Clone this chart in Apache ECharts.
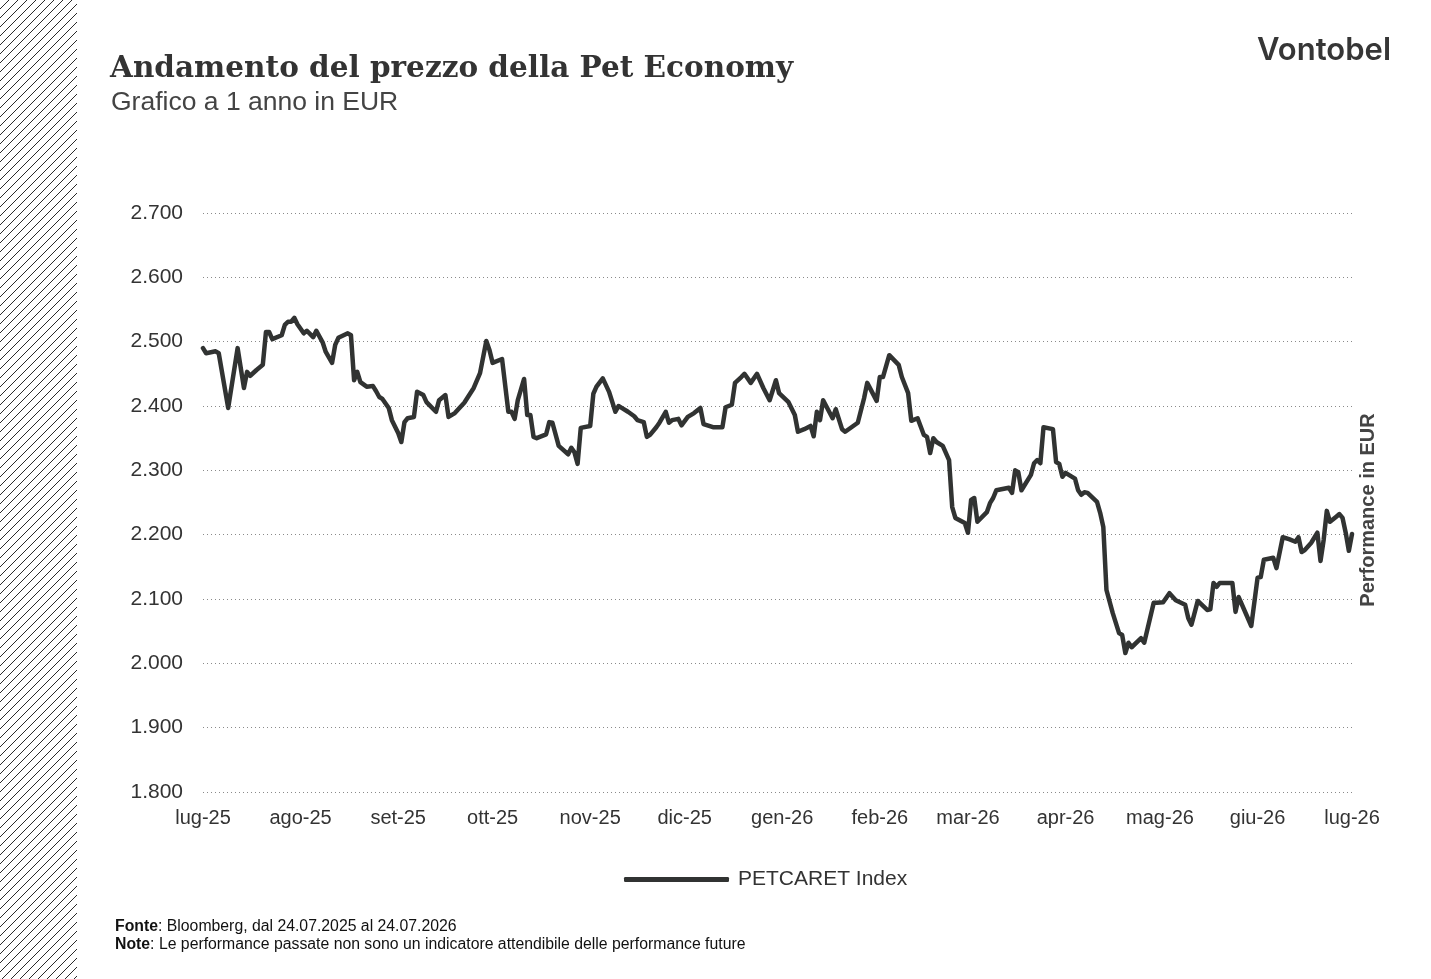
<!DOCTYPE html>
<html>
<head>
<meta charset="utf-8">
<script src="https://cdn.jsdelivr.net/npm/echarts@6/dist/echarts.min.js"></script>
<style>
  html, body { margin: 0; padding: 0; background: #fff; }
  #chart { width: 1431px; height: 979px; }
</style>
</head>
<body>
<div id="chart"></div>
<script>
// giorni dal 24.07.2025 (inizio serie)
const dayOffsets = [
  0,1,4,5,8,11,13,14,15,17, 19,20,21,22,25,26,27,28,29,30,
  32,33,35,36,38,39,41,42,43,46, 47,48,49,50,52,54,55,56,57,59,
  60,62,63,64,65,67,68,70,71,74, 75,77,78,80,83,86,88,90,91,92,
  95,97,98,99,100,102,103,104,105,106, 109,110,111,113,116,117,118,119,120,123,
  124,125,127,129,131,132,133,135,137,138, 140,141,142,144,145,147,148,149,151,152,
  154,156,158,159,162,165,166,168,169,171, 172,174,176,178,180,182,183,186,188,189,
  191,193,194,195,196,197,200,201,203,204, 208,210,211,214,215,216,218,221,222,224,
  225,227,229,230,231,232,233,235,237,238, 239,242,243,244,245,246,249,250,251,252,
  256,257,258,259,260,263,264,265,266,267, 270,271,272,273,274,277,278,279,280,281,
  284,285,286,287,289,291,292,293,294,295, 298,299,302,303,305,307,309,312,313,314,
  316,319,320,321,322,323,327,328,329,333, 335,336,337,340,341,343,345,347,348,349,
  350,352,354,355,356,357,358,360,361,362, 363,364,365
]

// PETCARET Index, EUR
const petcaret = [
  2490,2482,2485,2482,2397,2490,2428,2453,2447,2456, 2464,2515,2515,2504,2510,2526,2531,2531,2537,2527,
  2513,2517,2507,2517,2499,2484,2467,2495,2506,2513, 2510,2440,2453,2437,2430,2431,2423,2414,2411,2397,
  2378,2358,2344,2375,2381,2383,2422,2417,2406,2391, 2409,2417,2383,2389,2405,2428,2451,2501,2487,2467,
  2473,2391,2391,2380,2409,2442,2386,2386,2352,2350, 2356,2375,2374,2338,2325,2335,2328,2310,2366,2369,
  2419,2430,2443,2422,2391,2400,2397,2391,2384,2378, 2375,2352,2355,2367,2374,2391,2374,2378,2380,2370,
  2383,2389,2397,2372,2367,2367,2398,2402,2436,2445, 2450,2436,2450,2428,2409,2440,2420,2406,2386,2360,
  2364,2369,2353,2391,2378,2409,2381,2395,2364,2360, 2374,2412,2436,2408,2445,2445,2479,2464,2445,2420,
  2377,2381,2355,2352,2327,2350,2344,2338,2316,2243, 2226,2218,2203,2254,2257,2220,2235,2249,2257,2269,
  2273,2265,2300,2297,2269,2293,2311,2316,2311,2367, 2364,2313,2310,2290,2296,2287,2269,2262,2266,2265,
  2251,2234,2212,2114,2078,2047,2044,2016,2032,2025, 2039,2032,2094,2094,2095,2109,2098,2091,2070,2060,
  2097,2083,2084,2125,2119,2125,2125,2080,2103,2058, 2133,2134,2161,2164,2148,2196,2193,2189,2196,2173,
  2176,2187,2203,2159,2192,2237,2220,2228,2232,2226, 2203,2175,2201
]

// etichette asse x (24 di ogni mese)
const monthOffsets = [0, 31, 62, 92, 123, 153, 184, 215, 243, 274, 304, 335, 365]
const monthLabels = ['lug-25', 'ago-25', 'set-25', 'ott-25', 'nov-25', 'dic-25', 'gen-26',
  'feb-26', 'mar-26', 'apr-26', 'mag-26', 'giu-26', 'lug-26']

const yTicks = [1800, 1900, 2000, 2100, 2200, 2300, 2400, 2500, 2600, 2700]

const TEXT = '#333333'
const LINE = '#313332'

// tratteggio a sinistra
function hatchTile() {
  const c = document.createElement('canvas')
  c.width = 9
  c.height = 9
  const ctx = c.getContext('2d')
  ctx.strokeStyle = '#2a2a2a'
  ctx.lineWidth = 1
  ctx.beginPath()
  ctx.moveTo(-1, 10); ctx.lineTo(10, -1)
  ctx.moveTo(-10, 10); ctx.lineTo(1, -1)
  ctx.moveTo(8, 10); ctx.lineTo(19, -1)
  ctx.stroke()
  return c
}

const fmtThousands = v => {
  const s = String(Math.round(v))
  return s.length > 3 ? s.slice(0, s.length - 3) + '.' + s.slice(-3) : s
}

const chart = echarts.init(document.getElementById('chart'))

const option = {
  backgroundColor: '#fff',
  animation: false,
  textStyle: { fontFamily: 'Liberation Sans, Arial, sans-serif', color: TEXT },
  grid: { left: 203, right: 79, top: 213, bottom: 187 },
  xAxis: {
    type: 'value',
    min: 0,
    max: 365,
    axisLine: { show: false },
    axisTick: { show: false },
    splitLine: { show: false },
    axisLabel: {
      customValues: monthOffsets,
      formatter: v => monthLabels[monthOffsets.indexOf(v)] || '',
      color: TEXT,
      fontSize: 20,
      margin: 16,
      hideOverlap: false,
      showMinLabel: true,
      showMaxLabel: true
    }
  },
  yAxis: {
    type: 'value',
    min: yTicks[0],
    max: yTicks[yTicks.length - 1],
    interval: 100,
    axisLine: { show: false },
    axisTick: { show: false },
    axisLabel: { color: TEXT, fontSize: 21, margin: 20, formatter: fmtThousands },
    splitLine: { lineStyle: { color: '#8a8a8a', width: 1, type: [1, 3] } }
  },
  legend: {
    left: 619,
    top: 864,
    itemWidth: 105,
    itemHeight: 5,
    icon: 'roundRect',
    itemStyle: { color: LINE, borderWidth: 0 },
    textStyle: { color: TEXT, fontSize: 21, padding: [0, 0, 0, 4] },
    data: ['PETCARET Index']
  },
  series: [{
    name: 'PETCARET Index',
    type: 'line',
    showSymbol: false,
    symbol: 'none',
    lineStyle: { color: LINE, width: 4.5, join: 'round', cap: 'round' },
    itemStyle: { color: LINE },
    data: dayOffsets.map((d, i) => [d, petcaret[i]])
  }],
  graphic: [
    {
      type: 'rect',
      left: 0, top: 0,
      shape: { x: 0, y: 0, width: 77, height: 979 },
      style: { fill: { image: hatchTile(), repeat: 'repeat' } },
      silent: true
    },
    {
      type: 'text', left: 110, top: 54,
      style: { text: 'Andamento del prezzo della Pet Economy', font: 'bold 29.5px "DejaVu Serif", Georgia, serif', fill: TEXT }
    },
    {
      type: 'text', left: 111, top: 89,
      style: { text: 'Grafico a 1 anno in EUR', font: '26.5px "Liberation Sans", Arial, sans-serif', fill: '#444' }
    },
    {
      type: 'text', right: 40, top: 35,
      style: { text: 'Vontobel', font: '600 31px Inter, "Open Sans", sans-serif', fill: '#363636' }
    },
    {
      type: 'text', x: 1368, y: 510,
      rotation: Math.PI / 2,
      style: {
        text: 'Performance in EUR', font: 'bold 20px "Liberation Sans", Arial, sans-serif',
        fill: '#444', align: 'center', verticalAlign: 'middle'
      }
    },
    {
      type: 'text', left: 115, top: 919,
      style: {
        text: '{b|Fonte}: Bloomberg, dal 24.07.2025 al 24.07.2026',
        font: '15.8px "Liberation Sans", Arial, sans-serif', fill: '#111',
        rich: { b: { fontWeight: 'bold', fontSize: 15.8, fill: '#111' } }
      }
    },
    {
      type: 'text', left: 115, top: 937,
      style: {
        text: '{b|Note}: Le performance passate non sono un indicatore attendibile delle performance future',
        font: '15.8px "Liberation Sans", Arial, sans-serif', fill: '#111',
        rich: { b: { fontWeight: 'bold', fontSize: 15.8, fill: '#111' } }
      }
    }
  ]
}

chart.setOption(option)
</script>
</body>
</html>
